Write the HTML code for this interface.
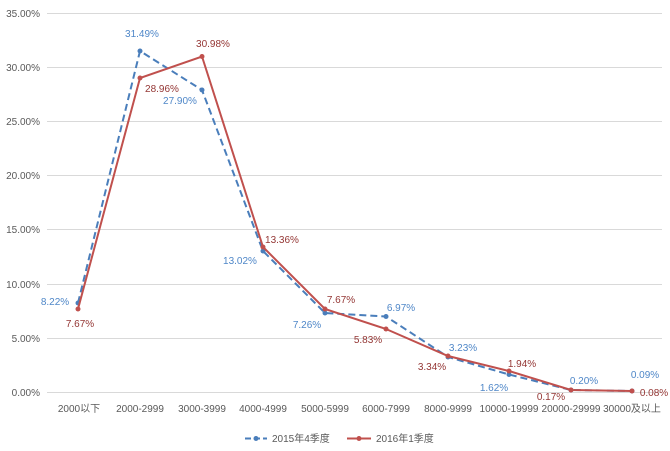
<!DOCTYPE html>
<html><head><meta charset="utf-8"><style>
html,body{margin:0;padding:0;background:#fff;}
svg{display:block;font-family:"Liberation Sans","Noto Sans CJK SC",sans-serif;}
</style></head><body>
<svg width="670" height="451" viewBox="0 0 670 451">
<g stroke="#d9d9d9" stroke-width="1">
<line x1="47" x2="662" y1="13.5" y2="13.5"/>
<line x1="47" x2="662" y1="67.5" y2="67.5"/>
<line x1="47" x2="662" y1="121.5" y2="121.5"/>
<line x1="47" x2="662" y1="175.5" y2="175.5"/>
<line x1="47" x2="662" y1="229.5" y2="229.5"/>
<line x1="47" x2="662" y1="284.5" y2="284.5"/>
<line x1="47" x2="662" y1="338.5" y2="338.5"/>
<line x1="47" x2="662" y1="392.5" y2="392.5"/>
</g>
<g font-size="10" fill="#595959" text-anchor="end">
<text x="40" y="17">35.00%</text>
<text x="40" y="71">30.00%</text>
<text x="40" y="125">25.00%</text>
<text x="40" y="179">20.00%</text>
<text x="40" y="233">15.00%</text>
<text x="40" y="288">10.00%</text>
<text x="40" y="342">5.00%</text>
<text x="40" y="396">0.00%</text>
</g>
<g font-size="10" fill="#595959" text-anchor="middle">
<text x="79" y="412">2000以下</text>
<text x="140" y="412">2000-2999</text>
<text x="202" y="412">3000-3999</text>
<text x="263" y="412">4000-4999</text>
<text x="325" y="412">5000-5999</text>
<text x="386" y="412">6000-7999</text>
<text x="448" y="412">8000-9999</text>
<text x="509" y="412">10000-19999</text>
<text x="571" y="412">20000-29999</text>
<text x="632" y="412">30000及以上</text>
</g>
<polyline fill="none" stroke="#4a7ebb" stroke-width="2" stroke-dasharray="7,4" points="78,303 140,51 202,90 263,251 325,313 386,316.5 448,357 509,374.5 571,390 632,391"/>
<g fill="#4a7ebb">
<circle cx="78" cy="303" r="2.5"/><circle cx="140" cy="51" r="2.5"/><circle cx="202" cy="90" r="2.5"/><circle cx="263" cy="251" r="2.5"/><circle cx="325" cy="313" r="2.5"/><circle cx="386" cy="316.5" r="2.5"/><circle cx="448" cy="357" r="2.5"/><circle cx="509" cy="374.5" r="2.5"/><circle cx="571" cy="390" r="2.5"/><circle cx="632" cy="391" r="2.5"/>
</g>
<polyline fill="none" stroke="#c0504d" stroke-width="2" points="78,309 140,78 202,56.5 263,247 325,309 386,329 448,356 509,371 571,390 632,391"/>
<g fill="#c0504d">
<circle cx="78" cy="309" r="2.5"/><circle cx="140" cy="78" r="2.5"/><circle cx="202" cy="56.5" r="2.5"/><circle cx="263" cy="247" r="2.5"/><circle cx="325" cy="309" r="2.5"/><circle cx="386" cy="329" r="2.5"/><circle cx="448" cy="356" r="2.5"/><circle cx="509" cy="371" r="2.5"/><circle cx="571" cy="390" r="2.5"/><circle cx="632" cy="391" r="2.5"/>
</g>
<g font-size="10" fill="#4f87c8" text-anchor="middle">
<text x="55" y="305">8.22%</text>
<text x="142" y="37">31.49%</text>
<text x="180" y="104">27.90%</text>
<text x="240" y="264">13.02%</text>
<text x="307" y="328">7.26%</text>
<text x="401" y="311">6.97%</text>
<text x="463" y="351">3.23%</text>
<text x="494" y="391">1.62%</text>
<text x="584" y="384">0.20%</text>
<text x="645" y="378">0.09%</text>
</g>
<g font-size="10" fill="#943634" text-anchor="middle">
<text x="80" y="327">7.67%</text>
<text x="162" y="92">28.96%</text>
<text x="213" y="47">30.98%</text>
<text x="282" y="243">13.36%</text>
<text x="341" y="303">7.67%</text>
<text x="368" y="343">5.83%</text>
<text x="432" y="370">3.34%</text>
<text x="522" y="367">1.94%</text>
<text x="551" y="400">0.17%</text>
<text x="654" y="396">0.08%</text>
</g>
<line x1="245" x2="267" y1="438.5" y2="438.5" stroke="#4a7ebb" stroke-width="2" stroke-dasharray="6,3"/>
<circle cx="256" cy="438.5" r="2.5" fill="#4a7ebb"/>
<text x="272" y="442" font-size="10" fill="#595959">2015年4季度</text>
<line x1="347" x2="371" y1="438.5" y2="438.5" stroke="#c0504d" stroke-width="2"/>
<circle cx="359" cy="438.5" r="2.5" fill="#c0504d"/>
<text x="376" y="442" font-size="10" fill="#595959">2016年1季度</text>
</svg>
</body></html>
